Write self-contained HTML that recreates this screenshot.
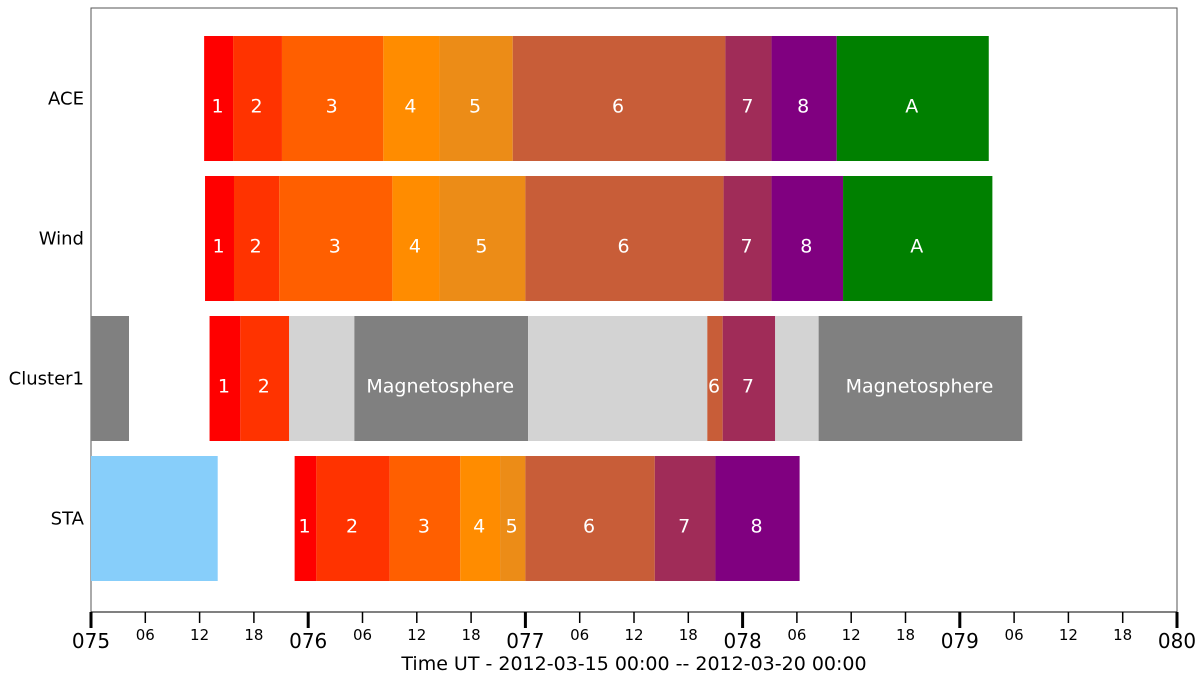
<!DOCTYPE html>
<html><head><meta charset="utf-8"><style>
body{margin:0;background:#fff}
svg{display:block;font-family:"DejaVu Sans","Liberation Sans",sans-serif}
</style></head><body>
<svg id="chart" width="1200" height="673"></svg>
<script>
const rowNames=["ACE","Wind","Cluster1","STA"];
const aceStarts=[12.5,15.7,21.1,32.3,38.5,46.6,70.1,75.2,82.4];
const aceEnds=[15.7,21.1,32.3,38.5,46.6,70.1,75.2,82.4,99.2];
const aceLabels=["1","2","3","4","5","6","7","8","A"];
const windStarts=[12.6,15.8,20.8,33.3,38.5,48.0,69.9,75.2,83.1];
const windEnds=[15.8,20.8,33.3,38.5,48.0,69.9,75.2,83.1,99.6];
const windLabels=["1","2","3","4","5","6","7","8","A"];
const clusterStarts=[0,13.1,16.5,21.9,29.1,48.3,68.1,69.8,75.6,80.4];
const clusterEnds=[4.2,16.5,21.9,29.1,48.3,68.1,69.8,75.6,80.4,102.9];
const clusterLabels=["","1","2","","Magnetosphere","","6","7","","Magnetosphere"];
const staStarts=[0,22.5,24.9,33.0,40.8,45.2,48.0,62.3,69.0];
const staEnds=[14.0,24.9,33.0,40.8,45.2,48.0,62.3,69.0,78.3];
const staLabels=["","1","2","3","4","5","6","7","8"];
const dayTicks=["075","076","077","078","079","080"];
const hourTicks=["06","12","18"];
const colorMap={"1":"#ff0000","2":"#ff3300","3":"#ff5f00","4":"#ff8c00","5":"#ec8c17","6":"#c85d38","7":"#a02c58","8":"#800080","A":"#008000","Magnetosphere":"#808080"};

const NS="http://www.w3.org/2000/svg";
const svg=document.getElementById('chart');
const X0=91,PXH=9.05,TOP=8,AXY=612,RIGHT=X0+120*PXH;
const rowTop=[36,176,316,456],rowH=125;
const x=h=>X0+h*PXH;
function mk(t,a){const e=document.createElementNS(NS,t);for(const k in a)e.setAttribute(k,a[k]);svg.appendChild(e);return e;}

const frame=mk('rect',{x:X0,y:TOP,width:RIGHT-X0,height:AXY-TOP,fill:'none',stroke:'#555','stroke-width':1});



const rows=[[aceStarts,aceEnds,aceLabels,null],[windStarts,windEnds,windLabels,null],[clusterStarts,clusterEnds,clusterLabels,'cluster'],[staStarts,staEnds,staLabels,'sta']];
rows.forEach((r,i)=>{
  const [s,e,l,kind]=r;
  s.forEach((st,j)=>{
    let c=colorMap[l[j]];
    if(!c){ if(kind==='cluster') c=(j===0)?'#808080':'#d3d3d3'; else c='#87cefa'; }
    const rc=mk('rect',{x:x(st),y:rowTop[i],width:x(e[j])-x(st),height:rowH,fill:c});
    
    
    if(l[j]){
      const t=mk('text',{x:(x(st)+x(e[j]))/2-1,y:rowTop[i]+rowH/2+14,'text-anchor':'middle','font-size':19,fill:'#fff'});
      t.textContent=l[j];
      
      
    }
  });
  const yl=mk('text',{x:84,y:rowTop[i]+rowH/2+6,'text-anchor':'end','font-size':18,fill:'#000'});
  yl.textContent=rowNames[i];
  
  
});

const ax=mk('line',{x1:X0,x2:RIGHT,y1:AXY,y2:AXY,stroke:'#000','stroke-width':1});


dayTicks.forEach((d,i)=>{
  const xx=x(i*24);
  const tk=mk('line',{x1:xx,x2:xx,y1:AXY,y2:AXY+16,stroke:'#000','stroke-width':3});
  
  
  const t=mk('text',{x:xx,y:AXY+36,'text-anchor':'middle','font-size':20,fill:'#000'});
  t.textContent=d;
  
  
  if(i<dayTicks.length-1) hourTicks.forEach((h,k)=>{
    const hx=x(i*24+(k+1)*6);
    const m=mk('line',{x1:hx,x2:hx,y1:AXY,y2:AXY+11,stroke:'#000','stroke-width':1.5});
    
    
    const ht=mk('text',{x:hx,y:AXY+28,'text-anchor':'middle','font-size':15,fill:'#000'});
    ht.textContent=h;
    
    
  });
});
const xt=mk('text',{x:634,y:670,'text-anchor':'middle','font-size':19,fill:'#000'});
xt.textContent='Time UT - 2012-03-15 00:00 -- 2012-03-20 00:00';


</script>
</body></html>
